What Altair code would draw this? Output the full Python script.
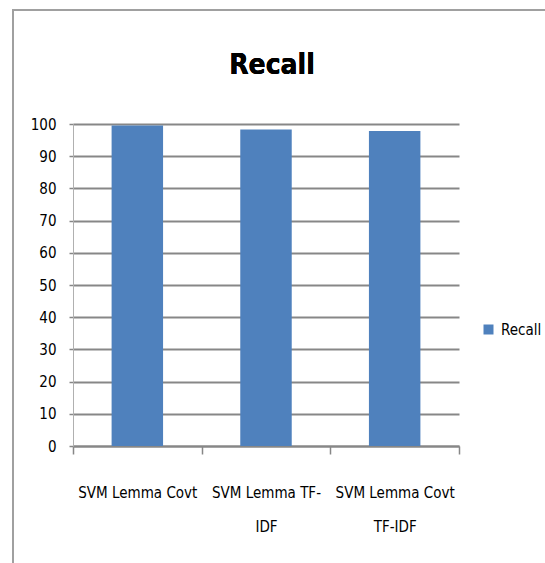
import altair as alt
import pandas as pd

# Recall per model variant
categories = ["SVM Lemma Covt", "SVM Lemma TF-IDF", "SVM Lemma Covt TF-IDF"]
recall = [99.5, 98.3, 97.8]
# wrapped axis labels, one list of lines per category
tick_labels = [["SVM Lemma Covt"], ["SVM Lemma TF-", "IDF"], ["SVM Lemma Covt", "TF-IDF"]]
series = ["Recall"] * len(categories)
chart_title = "Recall"

df = pd.DataFrame({"model": categories, "value": recall, "series": series})

label_map = "{" + ", ".join(
    "'" + c + "': [" + ", ".join("'" + s + "'" for s in lines) + "]"
    for c, lines in zip(categories, tick_labels)
) + "}"

FONT = "DejaVu Sans Condensed"
GRID = "#878787"

bars = alt.Chart(df).mark_bar(color="#4F81BD", width=alt.RelativeBandSize(0.4)).encode(
    x=alt.X(
        "model:N",
        sort=categories,
        title=None,
        scale=alt.Scale(paddingInner=0, paddingOuter=0),
        axis=alt.Axis(
            labelAngle=0,
            labelExpr=label_map + "[datum.value]",
            labelFont=FONT,
            labelFontSize=15,
            labelColor="#000000",
            labelLineHeight=34,
            labelPadding=31,
            tickBand="extent",
            tickSize=8,
            tickColor=GRID,
            tickWidth=1.5,
            domainColor=GRID,
            domainWidth=2,
            grid=False,
        ),
    ),
    y=alt.Y(
        "value:Q",
        title=None,
        scale=alt.Scale(domain=[0, 100], nice=False),
        axis=alt.Axis(
            values=list(range(0, 101, 10)),
            labelFont=FONT,
            labelFontSize=15,
            labelColor="#000000",
            labelPadding=13,
            tickSize=4,
            tickColor=GRID,
            tickWidth=1.5,
            domainColor="#B0B0B0",
            domainWidth=1,
            grid=True,
            gridColor=GRID,
            gridWidth=2,
        ),
    ),
    fill=alt.Fill(
        "series:N",
        scale=alt.Scale(range=["#4F81BD"]),
        legend=alt.Legend(
            title=None,
            orient="none",
            legendX=408,
            legendY=198,
            symbolType="square",
            symbolSize=100,
            symbolStrokeWidth=0,
            labelFont=FONT,
            labelFontSize=15,
            labelColor="#000000",
            labelOffset=5,
        ),
    ),
)

# outer chart frame; its right and bottom edges fall outside the canvas
frame = alt.Chart(df).mark_rect(
    fill="transparent", stroke="#A0A0A0", strokeWidth=2
).encode(
    x=alt.value(-60), x2=alt.value(490), y=alt.value(-114), y2=alt.value(470)
)

# chart heading
heading = alt.Chart(df).mark_text(
    font=FONT, fontSize=28, fontWeight="bold", color="#000000",
    align="center", baseline="alphabetic",
).encode(
    x=alt.value(199), y=alt.value(-50), text=alt.value(chart_title)
)

chart = (
    alt.layer(frame, bars, heading)
    .properties(
        width=386,
        height=322,
        autosize=alt.AutoSizeParams(type="none"),
        padding={"left": 73, "top": 124, "right": 86, "bottom": 117},
    )
    .configure_view(stroke=None)
)

chart.save("out.html", embed_options={"renderer": "svg", "actions": False})
